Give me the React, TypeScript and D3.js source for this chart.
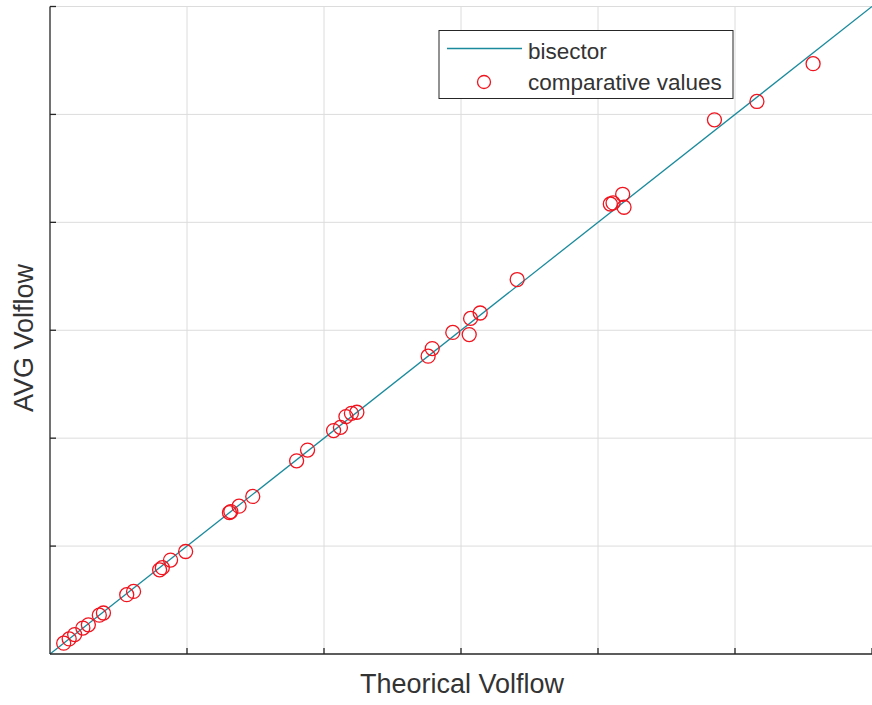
import React from "react";
import * as d3 from "d3";

const theoretical: number[] = [0.10, 0.14, 0.18, 0.24, 0.28, 0.36, 0.39, 0.56, 0.61, 0.80, 0.82, 0.88, 0.99, 1.31, 1.32, 1.38, 1.48, 1.80, 1.88, 2.07, 2.12, 2.16, 2.20, 2.24, 2.76, 2.79, 2.94, 3.06, 3.07, 3.14, 3.41, 4.09, 4.11, 4.18, 4.19, 4.85, 5.16, 5.57];
const average: number[] = [0.10, 0.14, 0.18, 0.24, 0.27, 0.36, 0.38, 0.55, 0.58, 0.78, 0.80, 0.87, 0.95, 1.31, 1.32, 1.37, 1.46, 1.79, 1.89, 2.07, 2.10, 2.20, 2.23, 2.24, 2.76, 2.83, 2.98, 2.96, 3.11, 3.16, 3.47, 4.17, 4.18, 4.26, 4.14, 4.95, 5.12, 5.47];
const bisector: [number, number][] = [[0, 0], [6, 6]];
const ticks: number[] = [0, 1, 2, 3, 4, 5, 6];
const xLabel = "Theorical Volflow";
const yLabel = "AVG Volflow";
const legendLabels = ["bisector", "comparative values"];

const W = 872, H = 705;
const left = 50, right = 872, top = 6.5, bottom = 654;
const AX = "#262626";
const TXT = "#333333";
const GRID = "#dcdcdc";
const LINE = "#1a8a9c";
const RED = "#f0141e";
const FONT = "'Liberation Sans', Arial, sans-serif";

export default function App() {
  const x = d3.scaleLinear().domain([0, 6]).range([left, right]);
  const y = d3.scaleLinear().domain([0, 6]).range([bottom, top]);
  const line = d3.line<[number, number]>().x(d => x(d[0])).y(d => y(d[1]));
  return (
    <svg width={W} height={H} style={{ position: "absolute", left: 0, top: 0, background: "#fff" }}>
      <rect width={W} height={H} fill="#fff" />
      {ticks.filter(t => t > 0 && t < 6).map(t => (
        <line key={"gx" + t} x1={x(t)} x2={x(t)} y1={y(0)} y2={y(6)} stroke={GRID} strokeWidth={1} />
      ))}
      {ticks.filter(t => t > 0).map(t => (
        <line key={"gy" + t} x1={x(0)} x2={x(6)} y1={y(t)} y2={y(t)} stroke={GRID} strokeWidth={1} />
      ))}
      <path d={line(bisector) || ""} fill="none" stroke={LINE} strokeWidth={1.3} />
      {theoretical.map((v, i) => (
        <circle key={i} cx={x(v)} cy={y(average[i])} r={7} fill="none" stroke={RED} strokeWidth={1.3} />
      ))}
      <line x1={x(0)} x2={x(6)} y1={y(0)} y2={y(0)} stroke={AX} strokeWidth={1.3} />
      <line x1={x(0)} x2={x(0)} y1={y(0)} y2={y(6)} stroke={AX} strokeWidth={1.3} />
      {ticks.filter(t => t > 0).map(t => (
        <line key={"tx" + t} x1={x(t)} x2={x(t)} y1={y(0)} y2={y(0) - 6} stroke={AX} strokeWidth={1.3} />
      ))}
      {ticks.filter(t => t > 0).map(t => (
        <line key={"ty" + t} x1={x(0)} x2={x(0) + 6} y1={y(t)} y2={y(t)} stroke={AX} strokeWidth={1.3} />
      ))}
      <text x={462} y={693} textAnchor="middle" fontFamily={FONT} fontSize={27} fill={TXT}>{xLabel}</text>
      <text transform="translate(33,338) rotate(-90)" textAnchor="middle" fontFamily={FONT} fontSize={27} fill={TXT}>{yLabel}</text>
      <g>
        <rect x={439} y={30.5} width={294} height={68} fill="#fff" stroke={AX} strokeWidth={1} />
        <line x1={447} x2={522} y1={48.5} y2={48.5} stroke={LINE} strokeWidth={1.3} />
        <text x={528} y={58.5} fontFamily={FONT} fontSize={22.5} fill={TXT}>{legendLabels[0]}</text>
        <circle cx={484} cy={82} r={6.5} fill="none" stroke={RED} strokeWidth={1.3} />
        <text x={528} y={89.5} fontFamily={FONT} fontSize={22.5} fill={TXT}>{legendLabels[1]}</text>
      </g>
    </svg>
  );
}
